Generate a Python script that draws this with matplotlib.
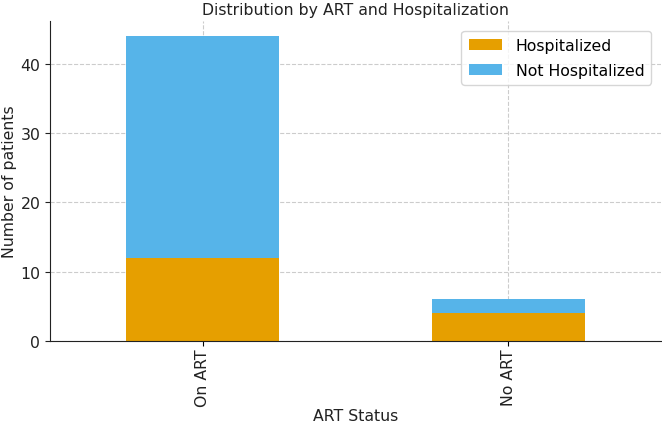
import matplotlib
matplotlib.use("Agg")
import matplotlib.pyplot as plt
import numpy as np

categories = ["On ART", "No ART"]
hospitalized = [12, 4]
not_hospitalized = [32, 2]

FS = 11.3
fig = plt.figure(figsize=(6.62, 4.27), dpi=100)
ax = fig.add_axes([50/662, 85/427, 611/662, 320/427])
x = np.arange(len(categories))
ax.bar(x, hospitalized, width=0.5, color="#E69F00", label="Hospitalized", zorder=2)
ax.bar(x, not_hospitalized, width=0.5, bottom=hospitalized, color="#56B4E9", label="Not Hospitalized", zorder=2)
ax.set_xlim(-0.5, 1.5)
ax.set_ylim(0, 46.2)
ax.set_xticks(x)
ax.set_xticklabels(categories, rotation=90, fontsize=FS, color="#222222")
ax.set_yticks([0, 10, 20, 30, 40])
ax.tick_params(axis="y", labelsize=FS, colors="#222222")
ax.tick_params(axis="x", pad=2)
ax.grid(True, linestyle="--", color="#cccccc", linewidth=0.8, zorder=0)
ax.set_axisbelow(True)
for s in ["top", "right"]:
    ax.spines[s].set_visible(False)
for s in ["left", "bottom"]:
    ax.spines[s].set_color("#222222")
ax.set_xlabel("ART Status", fontsize=FS, color="#222222", labelpad=1)
ax.set_ylabel("Number of patients", fontsize=FS, color="#222222", labelpad=2)
ax.set_title("Distribution by ART and Hospitalization", fontsize=FS, color="#222222", pad=5)
ax.legend(loc="upper right", bbox_to_anchor=(0.997, 0.993), fontsize=FS, frameon=True,
          framealpha=0.8, edgecolor="#cccccc", labelspacing=0.6, borderpad=0.45,
          handlelength=2.1, handletextpad=0.9)
fig.savefig("out.png", dpi=100)
